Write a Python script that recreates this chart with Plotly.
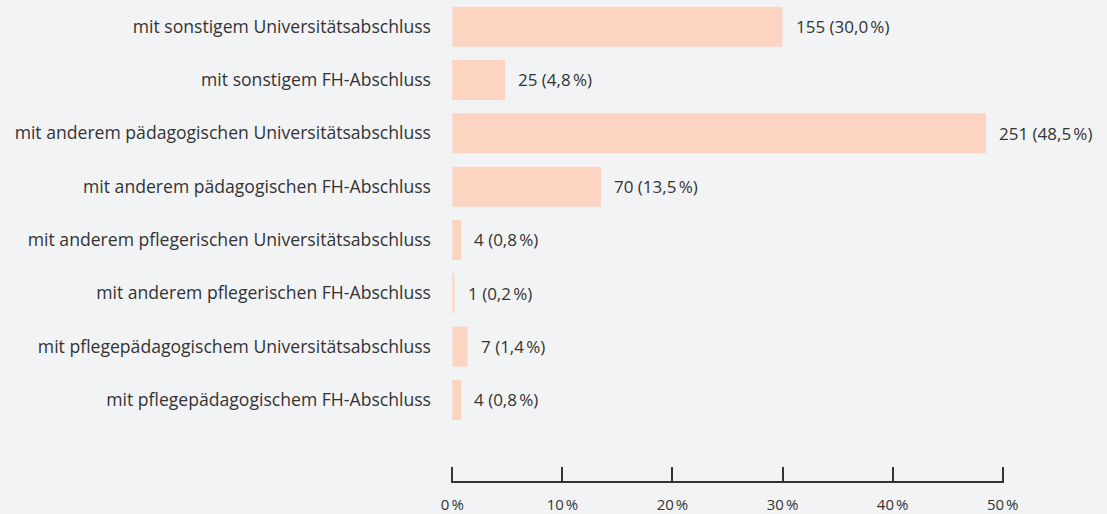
import plotly.graph_objects as go

categories = [
    "mit sonstigem Universitätsabschluss",
    "mit sonstigem FH-Abschluss",
    "mit anderem pädagogischen Universitätsabschluss",
    "mit anderem pädagogischen FH-Abschluss",
    "mit anderem pflegerischen Universitätsabschluss",
    "mit anderem pflegerischen FH-Abschluss",
    "mit pflegepädagogischem Universitätsabschluss",
    "mit pflegepädagogischem FH-Abschluss",
]
counts = [155, 25, 251, 70, 4, 1, 7, 4]
percents = [30.0, 4.8, 48.5, 13.5, 0.8, 0.2, 1.4, 0.8]
tick_vals = [0, 10, 20, 30, 40, 50]
tick_text = ["0\u202f%", "10\u202f%", "20\u202f%", "30\u202f%", "40\u202f%", "50\u202f%"]

FONT = "Open Sans"
TXT = "#333333"

cats_rev = categories[::-1]
pct_rev = percents[::-1]
cnt_rev = counts[::-1]

fig = go.Figure()
fig.add_trace(go.Bar(
    x=pct_rev, y=list(range(len(cats_rev))), orientation="h",
    marker=dict(color="#fdd3c2", line=dict(width=0)),
    width=0.75, hoverinfo="skip",
))

for i, (p, c) in enumerate(zip(pct_rev, cnt_rev)):
    fig.add_annotation(
        x=p, y=i, xref="x", yref="y",
        text=f"{c} ({p:.1f}\u202f%)".replace(".", ","),
        showarrow=False, xanchor="left", xshift=11,
        font=dict(family=FONT, size=17, color=TXT),
    )

fig.update_layout(
    width=1107, height=514,
    margin=dict(l=451, r=103, t=0, b=33),
    paper_bgcolor="#f2f3f5", plot_bgcolor="#f2f3f5",
    showlegend=False,
    font=dict(family=FONT, size=14, color=TXT),
    bargap=0.25,
)
fig.update_xaxes(
    range=[-0.12, 50.12], tickvals=tick_vals, ticktext=tick_text,
    showgrid=False, zeroline=False,
    showline=True, linecolor="#333333", linewidth=2,
    ticks="inside", ticklen=14, tickwidth=2, tickcolor="#333333",
    ticklabelstandoff=9,
    tickfont=dict(family=FONT, size=15, color=TXT),
    fixedrange=True,
)
fig.update_yaxes(
    range=[-1.52, 7.5],
    tickvals=list(range(len(cats_rev))), ticktext=cats_rev,
    showgrid=False, zeroline=False, showline=False, ticks="",
    ticklabelstandoff=19,
    tickfont=dict(family=FONT, size=17.6, color=TXT),
    automargin=False,
)

fig.write_html("out.html")
